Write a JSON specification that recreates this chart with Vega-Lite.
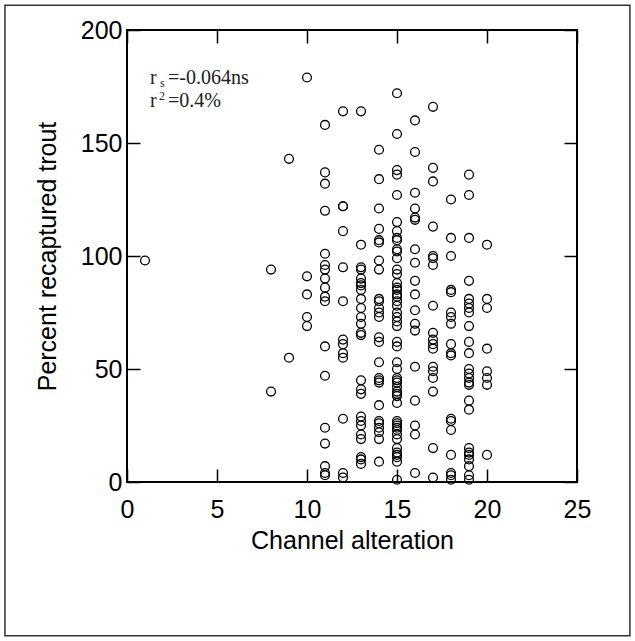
{
  "$schema": "https://vega.github.io/schema/vega-lite/v6.json",
  "width": 450,
  "height": 452,
  "autosize": {"type": "none"},
  "padding": {"left": 127, "top": 30, "right": 58, "bottom": 159},
  "background": "white",
  "config": {"view": {"stroke": "black", "strokeWidth": 2}, "font": "Liberation Sans"},
  "datasets": {
    "trout": [
      {"alteration": 1, "recaptured": 98},
      {"alteration": 8, "recaptured": 94}, {"alteration": 8, "recaptured": 40},
      {"alteration": 9, "recaptured": 143}, {"alteration": 9, "recaptured": 55},
      {"alteration": 10, "recaptured": 179}, {"alteration": 10, "recaptured": 91}, {"alteration": 10, "recaptured": 83}, {"alteration": 10, "recaptured": 73}, {"alteration": 10, "recaptured": 69},
      {"alteration": 11, "recaptured": 158}, {"alteration": 11, "recaptured": 137}, {"alteration": 11, "recaptured": 132}, {"alteration": 11, "recaptured": 120}, {"alteration": 11, "recaptured": 101}, {"alteration": 11, "recaptured": 96}, {"alteration": 11, "recaptured": 94}, {"alteration": 11, "recaptured": 90}, {"alteration": 11, "recaptured": 86}, {"alteration": 11, "recaptured": 82}, {"alteration": 11, "recaptured": 80}, {"alteration": 11, "recaptured": 60}, {"alteration": 11, "recaptured": 47}, {"alteration": 11, "recaptured": 24}, {"alteration": 11, "recaptured": 17}, {"alteration": 11, "recaptured": 7}, {"alteration": 11, "recaptured": 4}, {"alteration": 11, "recaptured": 3},
      {"alteration": 12, "recaptured": 164}, {"alteration": 12, "recaptured": 122}, {"alteration": 12, "recaptured": 122}, {"alteration": 12, "recaptured": 111}, {"alteration": 12, "recaptured": 95}, {"alteration": 12, "recaptured": 80}, {"alteration": 12, "recaptured": 63}, {"alteration": 12, "recaptured": 61}, {"alteration": 12, "recaptured": 57}, {"alteration": 12, "recaptured": 55}, {"alteration": 12, "recaptured": 28}, {"alteration": 12, "recaptured": 4}, {"alteration": 12, "recaptured": 2},
      {"alteration": 13, "recaptured": 164}, {"alteration": 13, "recaptured": 105}, {"alteration": 13, "recaptured": 95}, {"alteration": 13, "recaptured": 94}, {"alteration": 13, "recaptured": 90}, {"alteration": 13, "recaptured": 88}, {"alteration": 13, "recaptured": 87}, {"alteration": 13, "recaptured": 85}, {"alteration": 13, "recaptured": 81}, {"alteration": 13, "recaptured": 77}, {"alteration": 13, "recaptured": 73}, {"alteration": 13, "recaptured": 70}, {"alteration": 13, "recaptured": 66}, {"alteration": 13, "recaptured": 65}, {"alteration": 13, "recaptured": 45}, {"alteration": 13, "recaptured": 41}, {"alteration": 13, "recaptured": 39}, {"alteration": 13, "recaptured": 29}, {"alteration": 13, "recaptured": 27}, {"alteration": 13, "recaptured": 25}, {"alteration": 13, "recaptured": 21}, {"alteration": 13, "recaptured": 19}, {"alteration": 13, "recaptured": 11}, {"alteration": 13, "recaptured": 10}, {"alteration": 13, "recaptured": 8},
      {"alteration": 14, "recaptured": 147}, {"alteration": 14, "recaptured": 134}, {"alteration": 14, "recaptured": 121}, {"alteration": 14, "recaptured": 112}, {"alteration": 14, "recaptured": 107}, {"alteration": 14, "recaptured": 106}, {"alteration": 14, "recaptured": 98}, {"alteration": 14, "recaptured": 94}, {"alteration": 14, "recaptured": 81}, {"alteration": 14, "recaptured": 80}, {"alteration": 14, "recaptured": 77}, {"alteration": 14, "recaptured": 75}, {"alteration": 14, "recaptured": 73}, {"alteration": 14, "recaptured": 64}, {"alteration": 14, "recaptured": 62}, {"alteration": 14, "recaptured": 53}, {"alteration": 14, "recaptured": 46}, {"alteration": 14, "recaptured": 45}, {"alteration": 14, "recaptured": 44}, {"alteration": 14, "recaptured": 34}, {"alteration": 14, "recaptured": 27}, {"alteration": 14, "recaptured": 26}, {"alteration": 14, "recaptured": 24}, {"alteration": 14, "recaptured": 22}, {"alteration": 14, "recaptured": 19}, {"alteration": 14, "recaptured": 9},
      {"alteration": 15, "recaptured": 172}, {"alteration": 15, "recaptured": 154}, {"alteration": 15, "recaptured": 138}, {"alteration": 15, "recaptured": 136}, {"alteration": 15, "recaptured": 127}, {"alteration": 15, "recaptured": 115}, {"alteration": 15, "recaptured": 111}, {"alteration": 15, "recaptured": 108}, {"alteration": 15, "recaptured": 107}, {"alteration": 15, "recaptured": 103}, {"alteration": 15, "recaptured": 102}, {"alteration": 15, "recaptured": 99}, {"alteration": 15, "recaptured": 94}, {"alteration": 15, "recaptured": 92}, {"alteration": 15, "recaptured": 88}, {"alteration": 15, "recaptured": 86}, {"alteration": 15, "recaptured": 85}, {"alteration": 15, "recaptured": 83}, {"alteration": 15, "recaptured": 82}, {"alteration": 15, "recaptured": 80}, {"alteration": 15, "recaptured": 78}, {"alteration": 15, "recaptured": 75}, {"alteration": 15, "recaptured": 73}, {"alteration": 15, "recaptured": 71}, {"alteration": 15, "recaptured": 69}, {"alteration": 15, "recaptured": 62}, {"alteration": 15, "recaptured": 60}, {"alteration": 15, "recaptured": 53}, {"alteration": 15, "recaptured": 50}, {"alteration": 15, "recaptured": 46}, {"alteration": 15, "recaptured": 45}, {"alteration": 15, "recaptured": 44}, {"alteration": 15, "recaptured": 42}, {"alteration": 15, "recaptured": 40}, {"alteration": 15, "recaptured": 39}, {"alteration": 15, "recaptured": 38}, {"alteration": 15, "recaptured": 35}, {"alteration": 15, "recaptured": 27}, {"alteration": 15, "recaptured": 26}, {"alteration": 15, "recaptured": 25}, {"alteration": 15, "recaptured": 24}, {"alteration": 15, "recaptured": 23}, {"alteration": 15, "recaptured": 21}, {"alteration": 15, "recaptured": 19}, {"alteration": 15, "recaptured": 15}, {"alteration": 15, "recaptured": 13}, {"alteration": 15, "recaptured": 12}, {"alteration": 15, "recaptured": 11}, {"alteration": 15, "recaptured": 9}, {"alteration": 15, "recaptured": 1},
      {"alteration": 16, "recaptured": 160}, {"alteration": 16, "recaptured": 146}, {"alteration": 16, "recaptured": 128}, {"alteration": 16, "recaptured": 121}, {"alteration": 16, "recaptured": 117}, {"alteration": 16, "recaptured": 116}, {"alteration": 16, "recaptured": 103}, {"alteration": 16, "recaptured": 97}, {"alteration": 16, "recaptured": 89}, {"alteration": 16, "recaptured": 83}, {"alteration": 16, "recaptured": 76}, {"alteration": 16, "recaptured": 70}, {"alteration": 16, "recaptured": 67}, {"alteration": 16, "recaptured": 51}, {"alteration": 16, "recaptured": 36}, {"alteration": 16, "recaptured": 25}, {"alteration": 16, "recaptured": 21}, {"alteration": 16, "recaptured": 4},
      {"alteration": 17, "recaptured": 166}, {"alteration": 17, "recaptured": 139}, {"alteration": 17, "recaptured": 133}, {"alteration": 17, "recaptured": 113}, {"alteration": 17, "recaptured": 100}, {"alteration": 17, "recaptured": 99}, {"alteration": 17, "recaptured": 96}, {"alteration": 17, "recaptured": 78}, {"alteration": 17, "recaptured": 66}, {"alteration": 17, "recaptured": 63}, {"alteration": 17, "recaptured": 61}, {"alteration": 17, "recaptured": 59}, {"alteration": 17, "recaptured": 51}, {"alteration": 17, "recaptured": 49}, {"alteration": 17, "recaptured": 46}, {"alteration": 17, "recaptured": 40}, {"alteration": 17, "recaptured": 15}, {"alteration": 17, "recaptured": 2},
      {"alteration": 18, "recaptured": 125}, {"alteration": 18, "recaptured": 108}, {"alteration": 18, "recaptured": 100}, {"alteration": 18, "recaptured": 85}, {"alteration": 18, "recaptured": 84}, {"alteration": 18, "recaptured": 75}, {"alteration": 18, "recaptured": 73}, {"alteration": 18, "recaptured": 70}, {"alteration": 18, "recaptured": 61}, {"alteration": 18, "recaptured": 57}, {"alteration": 18, "recaptured": 56}, {"alteration": 18, "recaptured": 28}, {"alteration": 18, "recaptured": 27}, {"alteration": 18, "recaptured": 23}, {"alteration": 18, "recaptured": 12}, {"alteration": 18, "recaptured": 4}, {"alteration": 18, "recaptured": 3}, {"alteration": 18, "recaptured": 1},
      {"alteration": 19, "recaptured": 136}, {"alteration": 19, "recaptured": 127}, {"alteration": 19, "recaptured": 108}, {"alteration": 19, "recaptured": 89}, {"alteration": 19, "recaptured": 81}, {"alteration": 19, "recaptured": 79}, {"alteration": 19, "recaptured": 77}, {"alteration": 19, "recaptured": 75}, {"alteration": 19, "recaptured": 69}, {"alteration": 19, "recaptured": 62}, {"alteration": 19, "recaptured": 57}, {"alteration": 19, "recaptured": 50}, {"alteration": 19, "recaptured": 48}, {"alteration": 19, "recaptured": 46}, {"alteration": 19, "recaptured": 44}, {"alteration": 19, "recaptured": 43}, {"alteration": 19, "recaptured": 36}, {"alteration": 19, "recaptured": 32}, {"alteration": 19, "recaptured": 15}, {"alteration": 19, "recaptured": 13}, {"alteration": 19, "recaptured": 12}, {"alteration": 19, "recaptured": 10}, {"alteration": 19, "recaptured": 7}, {"alteration": 19, "recaptured": 3}, {"alteration": 19, "recaptured": 1},
      {"alteration": 20, "recaptured": 105}, {"alteration": 20, "recaptured": 81}, {"alteration": 20, "recaptured": 77}, {"alteration": 20, "recaptured": 59}, {"alteration": 20, "recaptured": 49}, {"alteration": 20, "recaptured": 46}, {"alteration": 20, "recaptured": 43}, {"alteration": 20, "recaptured": 12}
    ],
    "one": [{}]
  },
  "layer": [
    {
      "data": {"name": "trout"},
      "mark": {"type": "point", "shape": "circle", "filled": false, "stroke": "black", "strokeWidth": 1.3, "size": 78, "opacity": 1},
      "encoding": {
        "x": {
          "field": "alteration", "type": "quantitative",
          "scale": {"domain": [0, 25], "nice": false, "zero": false},
          "axis": {"orient": "bottom", "offset": -13, "zindex": 2, "values": [0, 5, 10, 15, 20, 25], "ticks": true, "tickSize": 13, "tickColor": "black", "tickWidth": 1.5, "domainOpacity": 0, "gridOpacity": 0,
                   "labelFont": "Liberation Sans", "labelFontSize": 25, "labelColor": "black", "labelPadding": 15, "labelFlush": false,
                   "title": "Channel alteration", "titleFont": "Liberation Sans", "titleFontSize": 25, "titleFontWeight": "normal", "titleColor": "black", "titlePadding": 6}
        },
        "y": {
          "field": "recaptured", "type": "quantitative",
          "scale": {"domain": [0, 200], "nice": false, "zero": false},
          "axis": {"orient": "left", "offset": -13, "zindex": 2, "values": [0, 50, 100, 150, 200], "ticks": true, "tickSize": 13, "tickColor": "black", "tickWidth": 1.5, "domainOpacity": 0, "gridOpacity": 0,
                   "labelFont": "Liberation Sans", "labelFontSize": 25, "labelColor": "black", "labelPadding": 5, "labelFlush": false,
                   "title": "Percent recaptured trout", "titleFont": "Liberation Sans", "titleFontSize": 25, "titleFontWeight": "normal", "titleColor": "black", "titlePadding": 20}
        }
      }
    },
    {
      "data": {"name": "one"},
      "mark": {"type": "rect", "filled": false, "stroke": "#333333", "strokeWidth": 1.5, "clip": false},
      "encoding": {
        "x": {"datum": -6.78, "type": "quantitative",
              "axis": {"orient": "top", "offset": -13, "zindex": 2, "values": [0, 5, 10, 15, 20, 25], "ticks": true, "tickSize": 13, "tickColor": "black", "tickWidth": 1.5, "domainOpacity": 0, "gridOpacity": 0, "labels": false, "title": null}},
        "x2": {"datum": 27.94},
        "y": {"datum": 211, "type": "quantitative",
              "axis": {"orient": "right", "offset": -13, "zindex": 2, "values": [0, 50, 100, 150, 200], "ticks": true, "tickSize": 13, "tickColor": "black", "tickWidth": 1.5, "domainOpacity": 0, "gridOpacity": 0, "labels": false, "title": null}},
        "y2": {"datum": -68}
      }
    },
    {
      "data": {"name": "one"},
      "mark": {"type": "text", "font": "Liberation Serif", "fontSize": 20, "align": "left", "baseline": "alphabetic", "color": "#222222"},
      "encoding": {"x": {"datum": 1.28, "type": "quantitative", "axis": null}, "y": {"datum": 176.1, "type": "quantitative", "axis": null}, "text": {"value": "r"}}
    },
    {
      "data": {"name": "one"},
      "mark": {"type": "text", "font": "Liberation Serif", "fontSize": 12, "align": "left", "baseline": "alphabetic", "color": "#222222", "dx": 10, "dy": 3},
      "encoding": {"x": {"datum": 1.28, "type": "quantitative", "axis": null}, "y": {"datum": 176.1, "type": "quantitative", "axis": null}, "text": {"value": "s"}}
    },
    {
      "data": {"name": "one"},
      "mark": {"type": "text", "font": "Liberation Serif", "fontSize": 20, "align": "left", "baseline": "alphabetic", "color": "#222222", "dx": 18},
      "encoding": {"x": {"datum": 1.28, "type": "quantitative", "axis": null}, "y": {"datum": 176.1, "type": "quantitative", "axis": null}, "text": {"value": "=-0.064ns"}}
    },
    {
      "data": {"name": "one"},
      "mark": {"type": "text", "font": "Liberation Serif", "fontSize": 20, "align": "left", "baseline": "alphabetic", "color": "#222222"},
      "encoding": {"x": {"datum": 1.28, "type": "quantitative", "axis": null}, "y": {"datum": 165.9, "type": "quantitative", "axis": null}, "text": {"value": "r"}}
    },
    {
      "data": {"name": "one"},
      "mark": {"type": "text", "font": "Liberation Serif", "fontSize": 12, "align": "left", "baseline": "alphabetic", "color": "#222222", "dx": 9, "dy": -7},
      "encoding": {"x": {"datum": 1.28, "type": "quantitative", "axis": null}, "y": {"datum": 165.9, "type": "quantitative", "axis": null}, "text": {"value": "2"}}
    },
    {
      "data": {"name": "one"},
      "mark": {"type": "text", "font": "Liberation Serif", "fontSize": 20, "align": "left", "baseline": "alphabetic", "color": "#222222", "dx": 18},
      "encoding": {"x": {"datum": 1.28, "type": "quantitative", "axis": null}, "y": {"datum": 165.9, "type": "quantitative", "axis": null}, "text": {"value": "=0.4%"}}
    }
  ],
  "resolve": {"axis": {"x": "independent", "y": "independent"}}
}
